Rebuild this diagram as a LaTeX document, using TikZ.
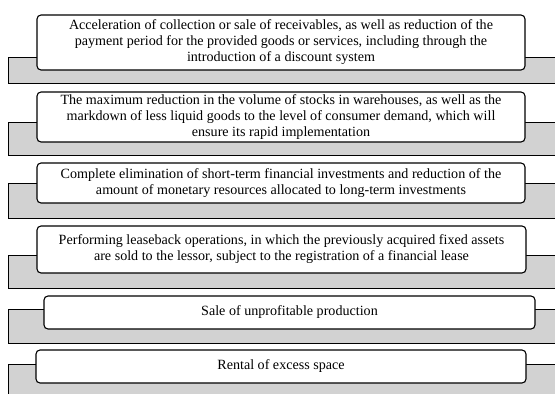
\documentclass[tikz,border=0pt]{standalone}
\usepackage{fontspec}
\setmainfont{Liberation Serif}
\usetikzlibrary{positioning}
\definecolor{bandgray}{RGB}{210,210,210}

\begin{document}
\begin{tikzpicture}[x=1pt,y=-1pt,
	measure/.style={draw, line width=1.1pt, rounded corners=4pt, fill=white, align=center, inner sep=0pt, font=\fontsize{14.1}{16}\selectfont},
	band/.style={fill=bandgray},
	bandline/.style={line width=1pt}]
	\useasboundingbox (0,0) rectangle (555,394);
	\clip (0,0) rectangle (555,394);
	
	% gray bands behind the boxes
	\fill[band] (8,57) rectangle (560,83);
	\draw[bandline] (560,57) -- (8,57) -- (8,83) -- (560,83);
	\fill[band] (8,122) rectangle (560,155);
	\draw[bandline] (560,122) -- (8,122) -- (8,155) -- (560,155);
	\fill[band] (8,183) rectangle (560,218);
	\draw[bandline] (560,183) -- (8,183) -- (8,218) -- (560,218);
	\fill[band] (8,255) rectangle (560,288);
	\draw[bandline] (560,255) -- (8,255) -- (8,288) -- (560,288);
	\fill[band] (8,309) rectangle (560,343);
	\draw[bandline] (560,309) -- (8,309) -- (8,343) -- (560,343);
	\fill[band] (8,364) rectangle (560,400);
	\draw[bandline] (560,364) -- (8,364) -- (8,400);
	
	% measures
	\node[measure, minimum width=488pt, minimum height=55pt] (m_1) at (281,42.5)
		{Acceleration of collection or sale of receivables, as well as reduction of the\\
		 payment period for the provided goods or services, including through the\\
		 introduction of a discount system};
	\node[measure, minimum width=488pt, minimum height=50pt] (m_2) at (281,117)
		{The maximum reduction in the volume of stocks in warehouses, as well as the\\
		 markdown of less liquid goods to the level of consumer demand, which will\\
		 ensure its rapid implementation};
	\node[measure, minimum width=488pt, minimum height=40pt] (m_3) at (281,183)
		{Complete elimination of short-term financial investments and reduction of the\\
		 amount of monetary resources allocated to long-term investments};
	\node[measure, minimum width=489pt, minimum height=47pt] (m_4) at (281.5,249.5)
		{Performing leaseback operations, in which the previously acquired fixed assets\\
		 are sold to the lessor, subject to the registration of a financial lease};
	\node[measure, minimum width=491pt, minimum height=33pt] (m_5) at (289.5,312.5)
		{Sale of unprofitable production};
	\node[measure, minimum width=490pt, minimum height=33pt] (m_6) at (281,366.5)
		{Rental of excess space};
\end{tikzpicture}
\end{document}
